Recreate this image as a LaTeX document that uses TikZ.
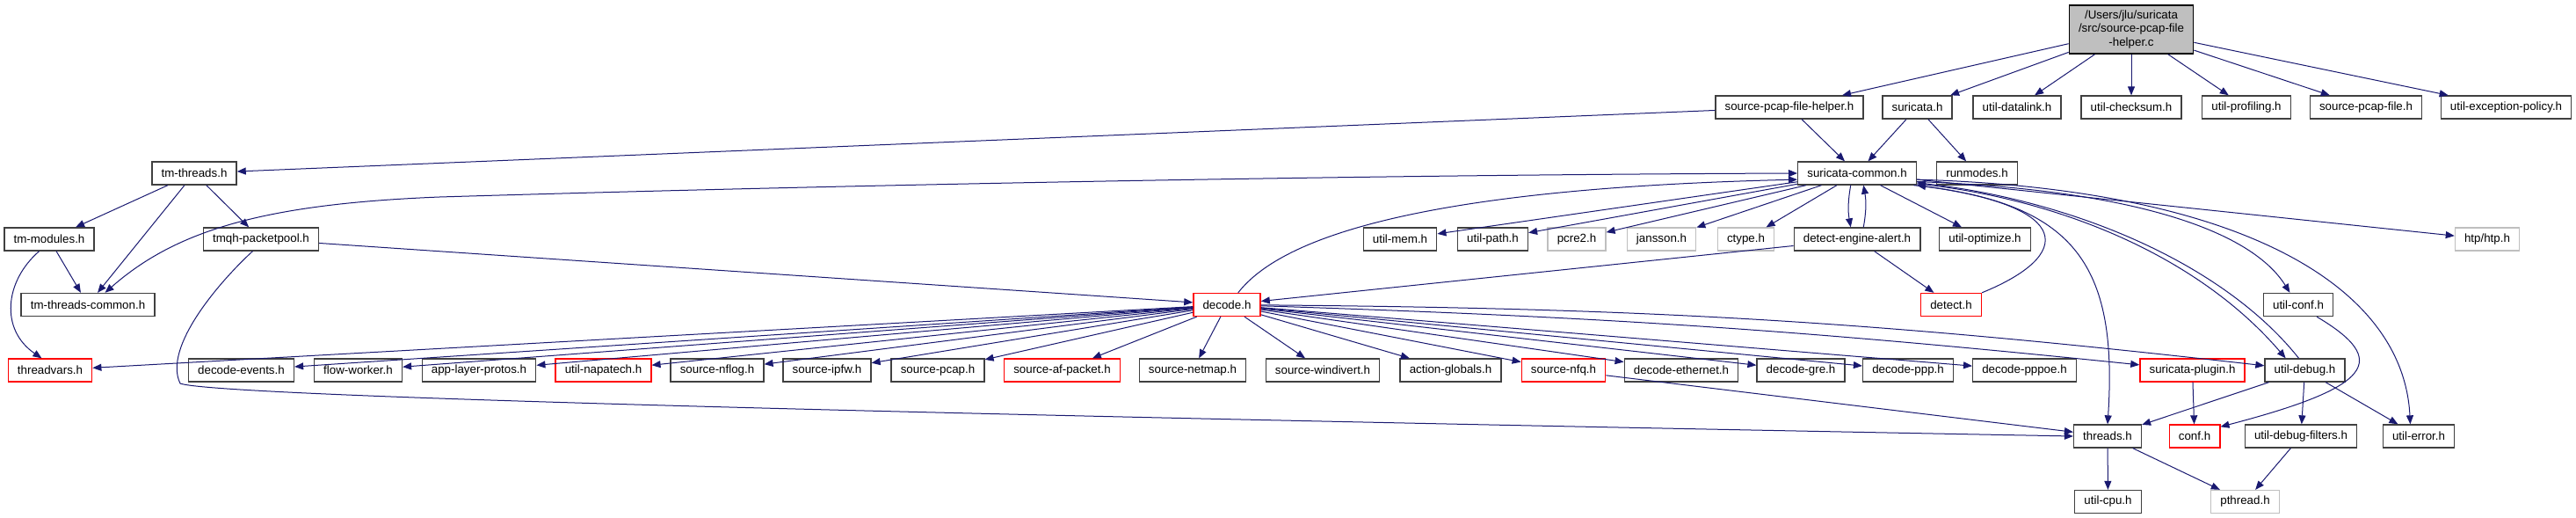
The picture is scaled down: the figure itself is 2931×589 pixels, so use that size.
\documentclass[tikz,border=0pt]{standalone}
\usepackage{fontspec}
\setmainfont{Liberation Sans}
\usetikzlibrary{arrows.meta}
\definecolor{incl}{RGB}{25,25,112}
\definecolor{nodeline}{RGB}{64,64,64}
\definecolor{missline}{RGB}{191,191,191}
\definecolor{rootfill}{RGB}{191,191,191}

\begin{document}
\begin{tikzpicture}[x=0.75pt, y=0.75pt, >={Triangle[length=7.5pt, width=6pt]}, every node/.style={font=\fontsize{10}{11.5}\selectfont}]
\tikzset{
  header/.style={draw=nodeline, line width=1pt, fill=white, inner xsep=8pt, inner ysep=0pt, minimum height=19.5pt},
  headertrunc/.style={header, draw=red},
  headermissing/.style={header, draw=missline},
  rootfile/.style={header, draw=black, fill=rootfill, align=center, minimum height=41.25pt},
  dep/.style={->, draw=incl, line width=0.75pt, line join=round}
}
\useasboundingbox (0,0) rectangle (2931,-589);

\node[rootfile] (root) at (2425,-33.5) {/Users/jlu/suricata\\/src/source-pcap-file\\-helper.c};

\node[header] (pcaphelper) at (2036,-122) {source-pcap-file-helper.h};
\node[header] (suricata) at (2181.5,-122) {suricata.h};
\node[header] (datalink) at (2295,-122) {util-datalink.h};
\node[header] (checksum) at (2425,-122) {util-checksum.h};
\node[header] (profiling) at (2556,-122) {util-profiling.h};
\node[header] (pcapfile) at (2692,-122) {source-pcap-file.h};
\node[header] (excpolicy) at (2851.5,-122) {util-exception-policy.h};

\node[header] (tmthreads) at (221,-197) {tm-threads.h};
\node[header] (common) at (2113,-197) {suricata-common.h};
\node[header] (runmodes) at (2249.5,-197) {runmodes.h};

\node[header] (tmmodules) at (56,-272) {tm-modules.h};
\node[header] (packetpool) at (297,-272) {tmqh-packetpool.h};
\node[header] (utilmem) at (1593,-272) {util-mem.h};
\node[header] (utilpath) at (1698.5,-272) {util-path.h};
\node[headermissing] (pcre) at (1794,-272) {pcre2.h};
\node[headermissing] (jansson) at (1890.5,-272) {jansson.h};
\node[headermissing] (ctype) at (1986.5,-272) {ctype.h};
\node[header] (alert) at (2113,-272) {detect-engine-alert.h};
\node[header] (optimize) at (2258.5,-272) {util-optimize.h};
\node[headermissing] (htp) at (2830,-272) {htp/htp.h};

\node[header] (tmcommon) at (100,-346.5) {tm-threads-common.h};
\node[headertrunc] (decode) at (1396,-346.5) {decode.h};
\node[headertrunc] (detect) at (2220,-346.5) {detect.h};
\node[header] (utilconf) at (2615,-346.5) {util-conf.h};

\node[headertrunc] (threadvars) at (57,-421) {threadvars.h};
\node[header] (decevents) at (274.5,-421) {decode-events.h};
\node[header] (flowworker) at (407.5,-421) {flow-worker.h};
\node[header] (applayer) at (545,-421) {app-layer-protos.h};
\node[headertrunc] (napatech) at (686.5,-421) {util-napatech.h};
\node[header] (nflog) at (816,-421) {source-nflog.h};
\node[header] (ipfw) at (941,-421) {source-ipfw.h};
\node[header] (srcpcap) at (1067,-421) {source-pcap.h};
\node[headertrunc] (afpacket) at (1208.5,-421) {source-af-packet.h};
\node[header] (netmap) at (1357,-421) {source-netmap.h};
\node[header] (windivert) at (1505,-421) {source-windivert.h};
\node[header] (actglobals) at (1650.5,-421) {action-globals.h};
\node[headertrunc] (nfq) at (1779,-421) {source-nfq.h};
\node[header] (ethernet) at (1913,-421) {decode-ethernet.h};
\node[header] (gre) at (2049,-421) {decode-gre.h};
\node[header] (ppp) at (2171,-421) {decode-ppp.h};
\node[header] (pppoe) at (2303.5,-421) {decode-pppoe.h};
\node[headertrunc] (plugin) at (2494.5,-421) {suricata-plugin.h};
\node[header] (utildebug) at (2622.5,-421) {util-debug.h};

\node[header] (threads) at (2398,-496) {threads.h};
\node[headertrunc] (conf) at (2497,-496) {conf.h};
\node[header] (debugfilters) at (2618,-496) {util-debug-filters.h};
\node[header] (utilerror) at (2752,-496) {util-error.h};

\node[header] (utilcpu) at (2398.5,-570.5) {util-cpu.h};
\node[headermissing] (pthread) at (2554.5,-570.5) {pthread.h};

\draw[dep] (root) -- (pcaphelper);
\draw[dep] (root) -- (suricata);
\draw[dep] (root) -- (datalink);
\draw[dep] (root) -- (checksum);
\draw[dep] (root) -- (profiling);
\draw[dep] (root) -- (pcapfile);
\draw[dep] (root) -- (excpolicy);

\draw[dep] (pcaphelper) -- (tmthreads);
\draw[dep] (pcaphelper) -- (common);
\draw[dep] (suricata) -- (common);
\draw[dep] (suricata) -- (runmodes);

\draw[dep] (tmthreads) -- (tmmodules);
\draw[dep] (tmthreads) -- (tmcommon);
\draw[dep] (tmthreads) -- (packetpool);
\draw[dep] (tmmodules) -- (tmcommon);
\draw[dep] (tmmodules.230) .. controls (5,-320) and (0,-375) .. (threadvars.125);
\draw[dep] (packetpool) -- (decode);
\draw[dep] (packetpool.235) .. controls (250,-320) and (185,-395) .. (205,-436) .. controls (235,-447) and (700,-465) .. (threads.west);

\draw[dep, <->] (common.west) .. controls (1500,-199) and (900,-212) .. (500,-224) .. controls (300,-232) and (200,-262) .. (tmcommon.35);
\draw[dep] (common) -- (utilmem);
\draw[dep] (common) -- (utilpath);
\draw[dep] (common) -- (pcre);
\draw[dep] (common) -- (jansson);
\draw[dep] (common) -- (ctype);
\draw[dep] (common.242) to[bend right=10] (alert.118);
\draw[dep] (alert.62) to[bend right=10] (common.298);
\draw[dep] (common) -- (optimize);
\draw[dep] (common) -- (htp);
\draw[dep] (common.-8) .. controls (2420,-215) and (2560,-260) .. (utilconf.125);
\draw[dep] (common.-12) .. controls (2360,-230) and (2410,-300) .. (threads.north);
\draw[dep] (common.-10) .. controls (2340,-225) and (2500,-290) .. (utildebug.148);
\draw[dep] (utildebug.117) .. controls (2530,-300) and (2360,-228) .. (common.-9);
\draw[dep] (common.-6) .. controls (2560,-215) and (2735,-330) .. (utilerror.125);

\draw[dep] (alert) -- (decode);
\draw[dep] (alert) -- (detect);
\draw[dep] (detect.north east) .. controls (2360,-290) and (2360,-235) .. (common.south east);
\draw[dep] (decode.47) .. controls (1450,-280) and (1580,-215) .. (common.186);

\draw[dep] (decode) -- (threadvars);
\draw[dep] (decode) -- (decevents);
\draw[dep] (decode) -- (flowworker);
\draw[dep] (decode) -- (applayer);
\draw[dep] (decode) -- (napatech);
\draw[dep] (decode) -- (nflog);
\draw[dep] (decode) -- (ipfw);
\draw[dep] (decode) -- (srcpcap);
\draw[dep] (decode) -- (afpacket);
\draw[dep] (decode) -- (netmap);
\draw[dep] (decode) -- (windivert);
\draw[dep] (decode) -- (actglobals);
\draw[dep] (decode) -- (nfq);
\draw[dep] (decode) -- (ethernet);
\draw[dep] (decode) -- (gre);
\draw[dep] (decode) -- (ppp);
\draw[dep] (decode) -- (pppoe);
\draw[dep] (decode) to[bend left=2] (plugin);
\draw[dep] (decode) to[bend left=3] (utildebug);

\draw[dep] (nfq) -- (threads);
\draw[dep] (plugin) -- (conf);
\draw[dep] (utilconf.-33) .. controls (2720,-410) and (2700,-440) .. (conf.20);
\draw[dep] (utildebug) -- (threads);
\draw[dep] (utildebug) -- (debugfilters);
\draw[dep] (utildebug) -- (utilerror);
\draw[dep] (threads) -- (utilcpu);
\draw[dep] (threads) -- (pthread);
\draw[dep] (debugfilters) -- (pthread);
\end{tikzpicture}
\end{document}
